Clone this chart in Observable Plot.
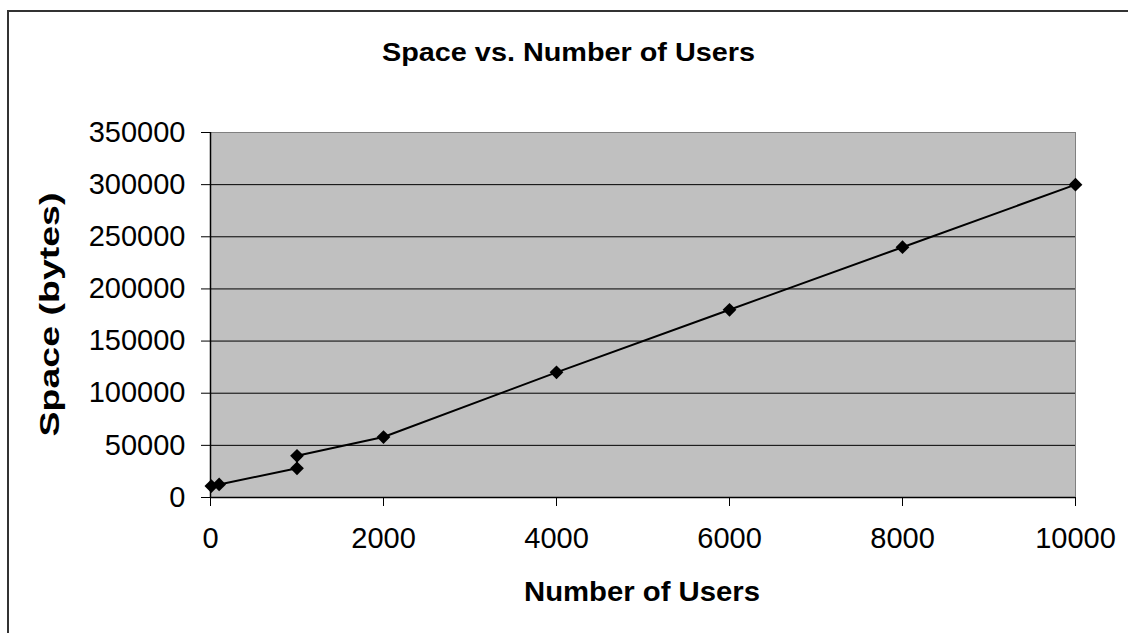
<!DOCTYPE html>
<html>
<head>
<meta charset="utf-8">
<script src="https://cdn.jsdelivr.net/npm/d3@7"></script>
<script src="https://cdn.jsdelivr.net/npm/@observablehq/plot@0.6"></script>
<style>
  html, body { margin: 0; padding: 0; background: #fff; }
  #wrap { position: relative; width: 1128px; height: 633px; overflow: hidden; background: #fff; }
  #wrap > svg { position: absolute; left: 0; top: 0; }
  #overlay { position: absolute; left: 0; top: 0; pointer-events: none; }
</style>
</head>
<body>
<div id="wrap"></div>
<script>
// ---- data ----
const users = [10, 100, 1000, 1000, 2000, 4000, 6000, 8000, 10000];
const space = [11000, 12500, 28000, 40000, 58000, 120000, 180000, 240000, 300000];
const xTicks = [0, 2000, 4000, 6000, 8000, 10000];
const yTicks = [0, 50000, 100000, 150000, 200000, 250000, 300000, 350000];
const titleText = "Space vs. Number of Users";
const xLabel = "Number of Users";
const yLabel = "Space (bytes)";

const data = users.map((u, i) => ({users: u, space: space[i]}));
const font = "'Liberation Sans', Arial, Helvetica, sans-serif";

const chart = Plot.plot({
  width: 1128,
  height: 633,
  marginLeft: 210,
  marginRight: 53,
  marginTop: 132,
  marginBottom: 136,
  x: {domain: [0, 10000]},
  y: {domain: [0, 350000]},
  style: {fontFamily: font, fontSize: "29px", color: "#000", background: "transparent", overflow: "visible"},
  marks: [
    Plot.frame({fill: "#c0c0c0", stroke: "#808080"}),
    Plot.ruleY(yTicks.slice(1, -1), {stroke: "#000", strokeWidth: 1}),
    Plot.ruleX([0], {stroke: "#000", strokeWidth: 1.5}),
    Plot.ruleY([0], {stroke: "#000", strokeWidth: 1.5}),
    Plot.axisY({ticks: yTicks, tickSize: 9, tickPadding: 16, tickFormat: "d", label: null, fontSize: 29, stroke: "#000"}),
    Plot.axisX({ticks: xTicks, tickSize: 9, tickPadding: 21, tickFormat: "d", label: null, fontSize: 29, stroke: "#000"}),
    Plot.line(data, {x: "users", y: "space", curve: "linear", stroke: "#000", strokeWidth: 2}),
    Plot.dot(data, {x: "users", y: "space", symbol: "diamond2", r: 6.2, fill: "#000", stroke: null})
  ]
});
const wrap = document.getElementById("wrap");
wrap.appendChild(chart);

// overlay for border and titles
const ns = "http://www.w3.org/2000/svg";
const ov = document.createElementNS(ns, "svg");
ov.setAttribute("id", "overlay");
ov.setAttribute("width", 1128);
ov.setAttribute("height", 633);
ov.innerHTML = `
  <rect x="8" y="11" width="2000" height="2000" fill="none" stroke="#333" stroke-width="2"></rect>
  <text x="568.5" y="61" text-anchor="middle" font-family="${font}" font-weight="bold" font-size="25" textLength="373" lengthAdjust="spacingAndGlyphs">${titleText}</text>
  <text x="642" y="601" text-anchor="middle" font-family="${font}" font-weight="bold" font-size="28" textLength="236" lengthAdjust="spacingAndGlyphs">${xLabel}</text>
  <text transform="translate(59,314.5) rotate(-90)" text-anchor="middle" font-family="${font}" font-weight="bold" font-size="28" textLength="244" lengthAdjust="spacingAndGlyphs">${yLabel}</text>
`;
wrap.appendChild(ov);
</script>
</body>
</html>
